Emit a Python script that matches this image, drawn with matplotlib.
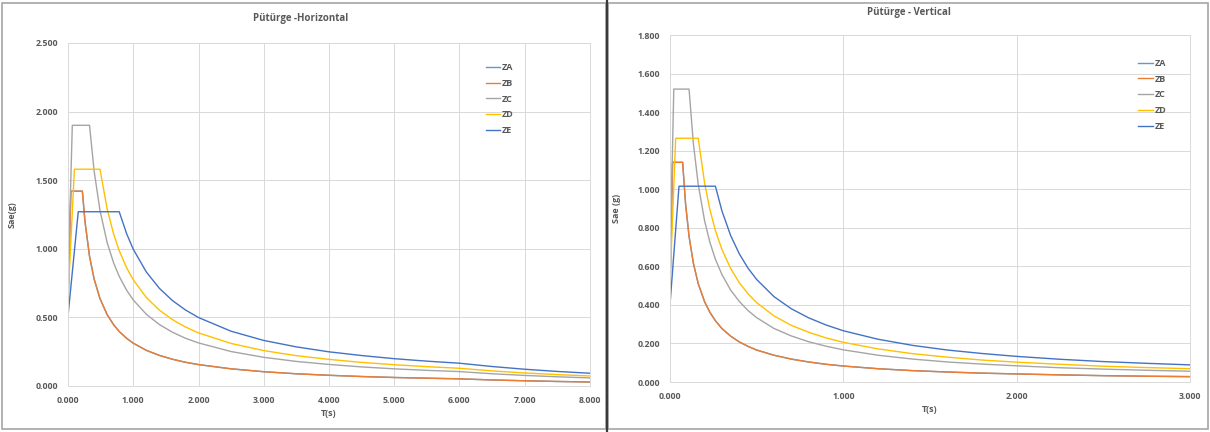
import matplotlib
matplotlib.use("Agg")
import matplotlib.pyplot as plt
from matplotlib.patches import Rectangle
from matplotlib.lines import Line2D

plt.rcParams["font.family"] = ["Open Sans", "DejaVu Sans"]

# ---- data (Pütürge design spectra) ----
zones = ["ZA", "ZB", "ZC", "ZD", "ZE"]
colors = ["#5B9BD5", "#ED7D31", "#A5A5A5", "#FFC000", "#4472C4"]

# horizontal spectrum, periods in s
t_h = [0.0, 0.044, 0.066, 0.098, 0.157, 0.22, 0.26, 0.33, 0.4, 0.49, 0.6, 0.7,
       0.785, 0.9, 1.0, 1.2, 1.4, 1.6, 1.8, 2.0, 2.5, 3.0, 3.5, 4.0, 4.5, 5.0,
       5.5, 6.0, 6.5, 7.0, 7.5, 8.0]
sae_h_zb = [0.57, 1.42, 1.42, 1.42, 1.42, 1.42, 1.200, 0.945, 0.780, 0.637,
            0.520, 0.446, 0.397, 0.347, 0.312, 0.260, 0.223, 0.195, 0.173,
            0.156, 0.125, 0.104, 0.089, 0.078, 0.069, 0.062, 0.057, 0.052,
            0.044, 0.038, 0.033, 0.029]
sae_h_za = sae_h_zb.copy()  # ZA sits right under ZB in the source chart
sae_h_zc = [0.76, 1.520, 1.90, 1.90, 1.90, 1.90, 1.90, 1.90, 1.568, 1.280,
            1.045, 0.896, 0.799, 0.697, 0.627, 0.523, 0.448, 0.392, 0.348,
            0.314, 0.251, 0.209, 0.179, 0.157, 0.139, 0.125, 0.114, 0.105,
            0.089, 0.077, 0.067, 0.059]
sae_h_zd = [0.63, 1.057, 1.270, 1.58, 1.58, 1.58, 1.58, 1.58, 1.58, 1.58,
            1.290, 1.106, 0.986, 0.860, 0.774, 0.645, 0.553, 0.484, 0.430,
            0.387, 0.310, 0.258, 0.221, 0.194, 0.172, 0.155, 0.141, 0.129,
            0.110, 0.095, 0.083, 0.073]
sae_h_ze = [0.51, 0.723, 0.829, 0.984, 1.27, 1.27, 1.27, 1.27, 1.27, 1.27,
            1.27, 1.27, 1.27, 1.108, 0.997, 0.831, 0.712, 0.623, 0.554,
            0.499, 0.399, 0.332, 0.285, 0.249, 0.222, 0.199, 0.181, 0.166,
            0.142, 0.122, 0.106, 0.093]

# vertical spectrum
t_v = [0.0, 0.015, 0.022, 0.033, 0.052, 0.073, 0.09, 0.11, 0.135, 0.163, 0.2,
       0.23, 0.262, 0.3, 0.35, 0.4, 0.45, 0.5, 0.6, 0.7, 0.8, 0.9, 1.0, 1.2,
       1.4, 1.6, 1.8, 2.0, 2.25, 2.5, 2.75, 3.0]
sae_v_zb = [0.46, 1.14, 1.14, 1.14, 1.14, 1.14, 0.924, 0.756, 0.616, 0.510,
            0.416, 0.362, 0.318, 0.277, 0.238, 0.208, 0.185, 0.166, 0.139,
            0.119, 0.104, 0.092, 0.083, 0.069, 0.059, 0.052, 0.046, 0.042,
            0.037, 0.033, 0.030, 0.028]
sae_v_za = sae_v_zb.copy()
sae_v_zc = [0.61, 1.23, 1.52, 1.52, 1.52, 1.52, 1.52, 1.52, 1.237, 1.025,
            0.835, 0.726, 0.637, 0.557, 0.477, 0.418, 0.371, 0.334, 0.278,
            0.239, 0.209, 0.186, 0.167, 0.139, 0.119, 0.104, 0.093, 0.084,
            0.074, 0.067, 0.061, 0.056]
sae_v_zd = [0.51, 0.853, 1.013, 1.265, 1.265, 1.265, 1.265, 1.265, 1.265,
            1.265, 1.030, 0.896, 0.786, 0.687, 0.589, 0.515, 0.458, 0.412,
            0.343, 0.294, 0.258, 0.229, 0.206, 0.172, 0.147, 0.129, 0.114,
            0.103, 0.092, 0.082, 0.075, 0.069]
sae_v_ze = [0.40, 0.578, 0.661, 0.791, 1.016, 1.016, 1.016, 1.016, 1.016,
            1.016, 1.016, 1.016, 1.016, 0.887, 0.760, 0.665, 0.591, 0.532,
            0.443, 0.380, 0.333, 0.296, 0.266, 0.222, 0.190, 0.166, 0.148,
            0.133, 0.118, 0.106, 0.097, 0.089]

h_series = [sae_h_za, sae_h_zb, sae_h_zc, sae_h_zd, sae_h_ze]
v_series = [sae_v_za, sae_v_zb, sae_v_zc, sae_v_zd, sae_v_ze]

TXT = "#595959"
GRID = "#D9D9D9"


def style_axes(ax, xmax, ymax, ystep):
    ax.set_xlim(0, xmax)
    ax.set_ylim(0, ymax)
    ax.set_xticks([i for i in range(int(xmax) + 1)])
    n = int(round(ymax / ystep))
    ax.set_yticks([i * ystep for i in range(n + 1)])
    ax.xaxis.set_major_formatter(lambda v, p: f"{v:.3f}")
    ax.yaxis.set_major_formatter(lambda v, p: f"{v:.3f}")
    ax.grid(True, color=GRID, linewidth=0.7)
    ax.set_axisbelow(True)
    for s in ax.spines.values():
        s.set_color(GRID)
        s.set_linewidth(0.7)
    ax.tick_params(length=0, labelsize=6.3, colors=TXT, pad=7)
    for lab in ax.get_xticklabels() + ax.get_yticklabels():
        lab.set_fontweight("bold")


fig = plt.figure(figsize=(12.1, 4.32), dpi=100)

ax_h = fig.add_axes([0.0562, 0.1065, 0.4314, 0.794])
for name, col, vals in zip(zones, colors, h_series):
    ax_h.plot(t_h, vals, color=col, linewidth=1.0, label=name)
style_axes(ax_h, 8, 2.5, 0.5)
ax_h.set_xlabel("T(s)", fontsize=6.5, color=TXT, fontweight="bold", labelpad=3)
ax_h.set_ylabel("Sae(g)", fontsize=6.5, color=TXT, fontweight="bold", labelpad=14)
ax_h.legend(loc="upper left", bbox_to_anchor=(0.785, 0.965), frameon=False,
            fontsize=6.5, handlelength=1.6, handletextpad=0.2, labelspacing=0.75,
            labelcolor=TXT, prop={"weight": "bold", "size": 6.5})

ax_v = fig.add_axes([0.5537, 0.1157, 0.4298, 0.803])
for name, col, vals in zip(zones, colors, v_series):
    ax_v.plot(t_v, vals, color=col, linewidth=1.0, label=name)
style_axes(ax_v, 3, 1.8, 0.2)
ax_v.set_xlabel("T(s)", fontsize=6.5, color=TXT, fontweight="bold", labelpad=3)
ax_v.set_ylabel("Sae (g)", fontsize=6.5, color=TXT, fontweight="bold", labelpad=12)
ax_v.legend(loc="upper left", bbox_to_anchor=(0.885, 0.955), frameon=False,
            handlelength=1.6, handletextpad=0.2, labelspacing=0.75,
            labelcolor=TXT, prop={"weight": "bold", "size": 6.5})

fig.text(301 / 1210, 1 - 18 / 432, "Pütürge -Horizontal", ha="center", va="center",
         fontsize=7, color=TXT, fontweight="bold")
fig.text(909 / 1210, 1 - 12 / 432, "Pütürge - Vertical", ha="center", va="center",
         fontsize=7, color=TXT, fontweight="bold")

# panel frames
fig.add_artist(Rectangle((2 / 1210, 3 / 432), 604 / 1210, 426 / 432,
                         transform=fig.transFigure, fill=False,
                         edgecolor="#A6A6A6", linewidth=1.2))
fig.add_artist(Rectangle((608 / 1210, 3 / 432), 600 / 1210, 426 / 432,
                         transform=fig.transFigure, fill=False,
                         edgecolor="#A6A6A6", linewidth=1.2))
fig.add_artist(Line2D([607 / 1210, 607 / 1210], [0, 1], transform=fig.transFigure,
                      color="#3A3A3A", linewidth=1.6))

fig.savefig("out.png", dpi=100)
